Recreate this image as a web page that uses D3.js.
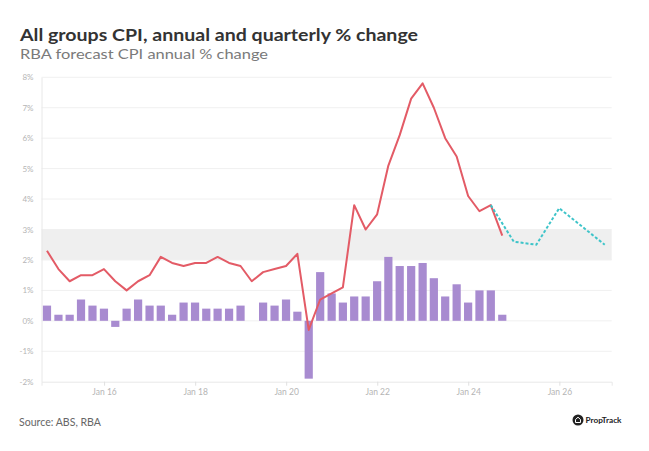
<!DOCTYPE html>
<html><head><meta charset="utf-8">
<script src="https://cdn.jsdelivr.net/npm/d3@7"></script>
<style>
body{margin:0;background:#fff;}
svg{display:block;}
</style></head>
<body><div id="chart"></div>
<script>
// ---- data ----
const quarterEnds = ["2014-09-30","2014-12-31","2015-03-31","2015-06-30","2015-09-30","2015-12-31","2016-03-31","2016-06-30","2016-09-30","2016-12-31","2017-03-31","2017-06-30","2017-09-30","2017-12-31","2018-03-31","2018-06-30","2018-09-30","2018-12-31","2019-03-31","2019-06-30","2019-09-30","2019-12-31","2020-03-31","2020-06-30","2020-09-30","2020-12-31","2021-03-31","2021-06-30","2021-09-30","2021-12-31","2022-03-31","2022-06-30","2022-09-30","2022-12-31","2023-03-31","2023-06-30","2023-09-30","2023-12-31","2024-03-31","2024-06-30","2024-09-30"];
const annualChange = [2.3,1.7,1.3,1.5,1.5,1.7,1.3,1.0,1.3,1.5,2.1,1.9,1.8,1.9,1.9,2.1,1.9,1.8,1.3,1.6,1.7,1.8,2.2,-0.3,0.7,0.9,1.1,3.8,3.0,3.5,5.1,6.1,7.3,7.8,7.0,6.0,5.4,4.1,3.6,3.8,2.8];
const quarterlyChange = [0.5,0.2,0.2,0.7,0.5,0.4,-0.2,0.4,0.7,0.5,0.5,0.2,0.6,0.6,0.4,0.4,0.4,0.5,0.0,0.6,0.5,0.7,0.3,-1.9,1.6,0.9,0.6,0.8,0.8,1.3,2.1,1.8,1.8,1.9,1.4,0.8,1.2,0.6,1.0,1.0,0.2];
const forecastDates = ["2024-06-30","2024-12-31","2025-06-30","2025-12-31","2026-12-31"];
const forecastValues = [3.8,2.6,2.5,3.7,2.5];
const yTicks = [-2,-1,0,1,2,3,4,5,6,7,8];
const xTickYears = [2016,2018,2020,2022,2024,2026];
const targetBand = [2,3];

const W = 649, H = 451;
const parse = d3.timeParse("%Y-%m-%d");
const actual = quarterEnds.map((d,i)=>({date:parse(d), annual:annualChange[i], q:quarterlyChange[i]}));
const fc = forecastDates.map((d,i)=>({date:parse(d), v:forecastValues[i]}));

const svg = d3.select("#chart").append("svg").attr("width",W).attr("height",H);

const x = d3.scaleTime().domain([new Date(2014,7,17), new Date(2027,1,25)]).range([41.5, 611.7]);
const y = d3.scaleLinear().domain([-2,8]).range([381.7, 77.3]);

// band
svg.append("rect").attr("x",x.range()[0]).attr("width",x.range()[1]-x.range()[0])
  .attr("y",y(targetBand[1])).attr("height",y(targetBand[0])-y(targetBand[1])).attr("fill","#efefef");

// grid
svg.append("g").selectAll("line").data(yTicks.filter(t=>t!==-2)).join("line")
  .attr("x1",x.range()[0]).attr("x2",x.range()[1]).attr("y1",d=>y(d)).attr("y2",d=>y(d))
  .attr("stroke","#f0f0f0").attr("stroke-width",1);

// y axis
const yAxis = svg.append("g").attr("transform",`translate(${x.range()[0]},0)`)
  .call(d3.axisLeft(y).tickValues(yTicks).tickSize(0).tickPadding(8).tickFormat(d=>d+"%"));
yAxis.select(".domain").attr("stroke","#e8e8e8");
yAxis.selectAll("text").attr("fill","#b5b5b5").style("font-family","Lato, 'Open Sans', sans-serif").style("font-size","8px");

// x axis
const xAxis = svg.append("g").attr("transform",`translate(0,${y(-2)})`)
  .call(d3.axisBottom(x).tickValues(xTickYears.map(yy=>new Date(yy,0,1))).tickSize(4).tickPadding(3).tickFormat(d3.timeFormat("Jan %y")));
xAxis.select(".domain").attr("stroke","#e8e8e8");
xAxis.selectAll(".tick line").attr("stroke","#e0e0e0");
xAxis.selectAll("text").attr("fill","#b5b5b5").style("font-family","Lato, 'Open Sans', sans-serif").style("font-size","8.5px");

// bars
const bw = 8.2;
svg.append("g").selectAll("rect").data(actual).join("rect")
  .attr("x",d=>x(d.date)-bw/2).attr("width",bw)
  .attr("y",d=>y(Math.max(0,d.q))).attr("height",d=>Math.abs(y(d.q)-y(0)))
  .attr("fill","#a88bd0");

// annual line
svg.append("path").datum(actual)
  .attr("d",d3.line().x(d=>x(d.date)).y(d=>y(d.annual)))
  .attr("fill","none").attr("stroke","#e35b66").attr("stroke-width",2).attr("stroke-linejoin","round");

// forecast
svg.append("path").datum(fc)
  .attr("d",d3.line().x(d=>x(d.date)).y(d=>y(d.v)))
  .attr("fill","none").attr("stroke","#3ec4c9").attr("stroke-width",2).attr("stroke-dasharray","3,2");

// titles
svg.append("text").attr("x",20).attr("y",41).text("All groups CPI, annual and quarterly % change")
  .attr("fill","#333").style("font-family","Lato, 'Open Sans', sans-serif").style("font-weight","700").style("font-size","17px")
  .attr("textLength",398).attr("lengthAdjust","spacingAndGlyphs");
svg.append("text").attr("x",20).attr("y",59).text("RBA forecast CPI annual % change")
  .attr("fill","#7a7a7a").style("font-family","Lato, 'Open Sans', sans-serif").style("font-size","14px")
  .attr("textLength",248).attr("lengthAdjust","spacingAndGlyphs");

// source
svg.append("text").attr("x",19).attr("y",426).text("Source: ABS, RBA")
  .attr("fill","#666").style("font-family","Lato, 'Open Sans', sans-serif").style("font-size","10.5px")
  .attr("textLength",82).attr("lengthAdjust","spacingAndGlyphs");

// logo
const logo = svg.append("g").attr("transform","translate(578,420)");
logo.append("circle").attr("r",5.5).attr("fill","#222");
logo.append("path").attr("d","M-2.5,2.5 V-0.5 L0,-2.8 L2.5,-0.5 V2.5 Z").attr("fill","none").attr("stroke","#fff").attr("stroke-width",1);
logo.append("text").attr("x",7.5).attr("y",3).text("PropTrack").attr("fill","#222")
  .style("font-family","Lato, 'Open Sans', sans-serif").style("font-weight","700").style("font-size","8px")
  .attr("textLength",36).attr("lengthAdjust","spacingAndGlyphs");
</script>
</body></html>
